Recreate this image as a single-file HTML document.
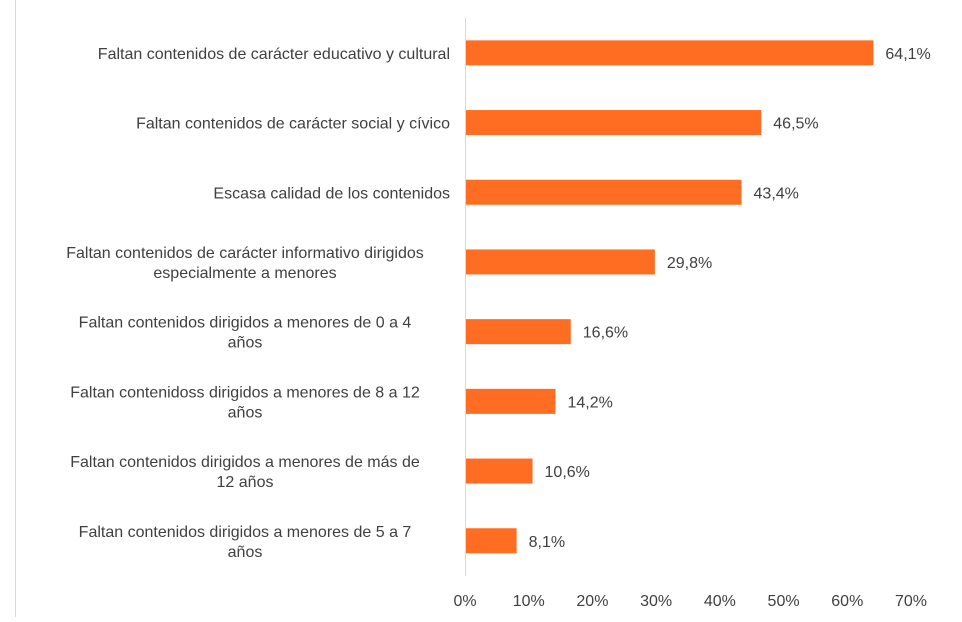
<!DOCTYPE html>
<html><head><meta charset="utf-8"><style>
body{margin:0;background:#fff;width:962px;height:617px;overflow:hidden;font-family:"Liberation Sans",sans-serif}
</style></head><body>
<svg id="c" width="962" height="617">
<line x1="15.5" y1="0" x2="15.5" y2="617" stroke="#d9d9d9"/>
</svg>
<script>
const categories=[["Faltan contenidos de carácter educativo y cultural"],["Faltan contenidos de carácter social y cívico"],["Escasa calidad de los contenidos"],["Faltan contenidos de carácter informativo dirigidos","especialmente a menores"],["Faltan contenidos dirigidos a menores de 0 a 4","años"],["Faltan contenidoss dirigidos a menores de 8 a 12","años"],["Faltan contenidos dirigidos a menores de más de","12 años"],["Faltan contenidos dirigidos a menores de 5 a 7","años"]];
const values=[64.1,46.5,43.4,29.8,16.6,14.2,10.6,8.1];
const valueLabels=["64,1%","46,5%","43,4%","29,8%","16,6%","14,2%","10,6%","8,1%"];
const ticks=[0,10,20,30,40,50,60,70];
const tickLabels=["0%","10%","20%","30%","40%","50%","60%","70%"];
const svg=document.getElementById('c');const NS='http://www.w3.org/2000/svg';
const x0=465,pxPer=(911-465)/70,plotTop=18,band=69.7,bh=25;
const xs=v=>x0+v*pxPer, yc=i=>plotTop+band*(i+0.5);
function mk(t,a,txt){const e=document.createElementNS(NS,t);for(const k in a)e.setAttribute(k,a[k]);if(txt!=null)e.textContent=txt;svg.appendChild(e);return e;}
const ax=mk('line',{x1:x0+0.5,y1:18,x2:x0+0.5,y2:576,stroke:'#d9d9d9'});


values.forEach((v,i)=>{
 const r=mk('rect',{x:x0+1,y:yc(i)-bh/2,width:xs(v)-x0-1,height:bh,fill:'#ff6d22'});
 
 
 const t=mk('text',{x:xs(v)+12,y:yc(i)+6,'font-size':16,fill:'#404040'},valueLabels[i]);
 
 
 const lines=categories[i];
 lines.forEach((ln,j)=>{
  const y=yc(i)+6+(j-(lines.length-1)/2)*20;
  const multi=lines.length>1;
  const c=mk('text',{x:multi?245:450,y:y,'font-size':16,fill:'#404040','text-anchor':multi?'middle':'end'},ln);
  
  
 });
});
ticks.forEach((t,i)=>{
 const e=mk('text',{x:xs(t),y:606,'font-size':16,fill:'#404040','text-anchor':'middle'},tickLabels[i]);
 
 
});
</script>
</body></html>
